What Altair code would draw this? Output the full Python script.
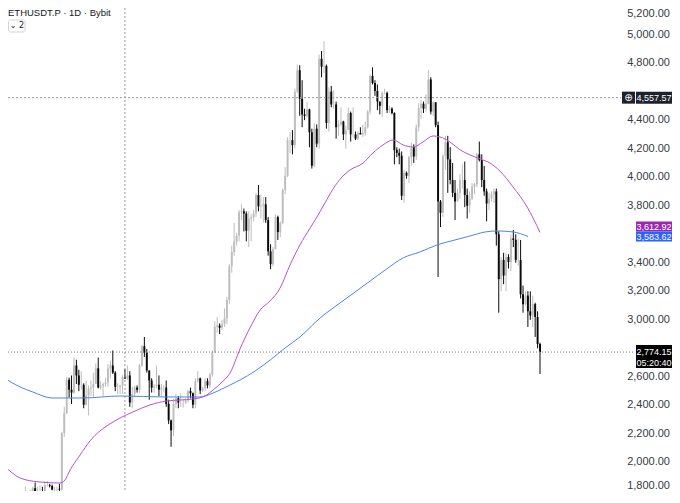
import altair as alt
import pandas as pd

# ---------------- data ----------------
START = "2025-04-22"          # first visible daily candle
FIRST_OPEN = 1580

closes = [
    1755, 1795, 1770, 1785, 1820, 1790, 1800, 1800, 1795,
    1840, 1840, 1835, 1810, 1815, 1815, 1810, 2205, 2345, 2580, 2510, 2490, 2680, 2610, 2545, 2545,
    2405, 2470, 2520, 2525, 2550, 2660, 2525, 2535, 2550, 2560, 2660, 2680, 2630, 2530, 2530,
    2540, 2600, 2590, 2610, 2420, 2480, 2525, 2510, 2680, 2815, 2770, 2645, 2575, 2525, 2535,
    2545, 2510, 2525, 2525, 2410, 2295, 2225, 2410, 2450, 2420, 2420, 2420, 2435, 2500, 2485,
    2405, 2570, 2590, 2505, 2520, 2570, 2540, 2615, 2770, 2950, 2960, 2945, 2970, 3010, 3140,
    3375, 3475, 3550, 3590, 3755, 3760, 3745, 3625, 3710, 3720, 3745, 3875, 3795, 3800, 3810, 3700,
    3480, 3390, 3495, 3720, 3615, 3680, 3910, 4010, 4260, 4260, 4225, 4600, 4750, 4550, 4440,
    4430, 4475, 4315, 4080, 4340, 4235, 4830, 4775, 4780, 4380, 4600, 4510, 4510, 4350, 4370, 4390,
    4300, 4330, 4450, 4300, 4300, 4270, 4310, 4300, 4310, 4350, 4460, 4710, 4660, 4605, 4530,
    4500, 4590, 4590, 4470, 4480, 4450, 4190, 4170, 4150, 3870, 4030, 4010, 4140, 4210, 4145,
    4350, 4485, 4515, 4480, 4515, 4685, 4460, 4525, 4365, 3830, 3750, 4150, 4245, 4125, 3980,
    3890, 3830, 3890, 3980, 3980, 3875, 3800, 3850, 3935, 3950, 4160, 4120, 3980, 3900, 3815, 3850,
    3880, 3900, 3600, 3285, 3420, 3310, 3440, 3405, 3570, 3560, 3420, 3420, 3180, 3110, 3170,
    3060, 3030, 3110, 3020, 2830, 2774.15,
]
highs = [
    1785, 1830, 1800, 1810, 1830, 1860, 1830, 1840, 1830,
    1870, 1870, 1850, 1845, 1830, 1830, 1850, 2215, 2390, 2600, 2595, 2610, 2735, 2720, 2650, 2640,
    2555, 2575, 2540, 2575, 2630, 2695, 2735, 2570, 2560, 2595, 2690, 2715, 2785, 2640, 2555,
    2545, 2610, 2655, 2680, 2640, 2530, 2540, 2540, 2690, 2825, 2880, 2795, 2640, 2590, 2550,
    2680, 2610, 2550, 2540, 2575, 2440, 2300, 2445, 2480, 2465, 2485, 2440, 2450, 2510, 2525,
    2490, 2590, 2640, 2595, 2530, 2590, 2590, 2630, 2785, 2990, 3020, 2975, 3000, 3080, 3160,
    3390, 3520, 3680, 3610, 3770, 3810, 3780, 3760, 3760, 3740, 3770, 3890, 3945, 3880, 3860, 3860,
    3720, 3530, 3510, 3740, 3730, 3690, 3920, 4070, 4280, 4320, 4330, 4620, 4790, 4785, 4680,
    4480, 4530, 4480, 4340, 4380, 4370, 4860, 4885, 4955, 4790, 4630, 4640, 4610, 4530, 4400, 4490,
    4395, 4360, 4490, 4460, 4490, 4320, 4320, 4350, 4370, 4390, 4470, 4720, 4770, 4680, 4650,
    4530, 4600, 4620, 4600, 4500, 4490, 4455, 4210, 4200, 4180, 4050, 4040, 4150, 4240, 4230,
    4370, 4520, 4540, 4530, 4580, 4750, 4700, 4530, 4525, 4390, 3840, 4160, 4290, 4290, 4210,
    4100, 3980, 3920, 4020, 4090, 4110, 3920, 3900, 3960, 3960, 4170, 4250, 4160, 4080, 3920, 3890,
    3900, 3920, 3920, 3620, 3440, 3470, 3470, 3460, 3600, 3630, 3600, 3570, 3560, 3240, 3200,
    3200, 3200, 3170, 3120, 3060, 2840,
]
lows = [
    1575, 1745, 1735, 1750, 1775, 1785, 1745, 1785, 1755,
    1795, 1830, 1825, 1805, 1785, 1760, 1780, 1805, 2180, 2340, 2455, 2410, 2480, 2550, 2500, 2510,
    2380, 2400, 2330, 2465, 2455, 2550, 2520, 2510, 2465, 2530, 2530, 2590, 2620, 2500, 2480,
    2480, 2480, 2585, 2580, 2390, 2380, 2460, 2490, 2490, 2670, 2740, 2630, 2440, 2490, 2490,
    2520, 2465, 2465, 2490, 2390, 2270, 2110, 2185, 2380, 2380, 2390, 2385, 2410, 2420, 2450,
    2380, 2380, 2560, 2480, 2495, 2500, 2520, 2520, 2600, 2770, 2910, 2900, 2930, 2950, 2970,
    3110, 3330, 3450, 3520, 3550, 3700, 3620, 3550, 3510, 3550, 3690, 3720, 3760, 3710, 3680, 3680,
    3450, 3355, 3375, 3495, 3560, 3580, 3670, 3880, 4000, 4170, 4160, 4200, 4590, 4430, 4350,
    4400, 4420, 4210, 4060, 4070, 4210, 4200, 4700, 4730, 4340, 4320, 4490, 4480, 4270, 4290, 4360,
    4260, 4200, 4330, 4250, 4280, 4260, 4260, 4300, 4280, 4290, 4340, 4440, 4650, 4570, 4470,
    4440, 4420, 4580, 4450, 4450, 4440, 4090, 4140, 4090, 3840, 3820, 3990, 3960, 4080, 4100,
    4120, 4320, 4410, 4450, 4460, 4510, 4440, 4430, 4350, 3300, 3650, 3720, 4050, 3890, 3950,
    3860, 3700, 3830, 3850, 3920, 3790, 3710, 3750, 3840, 3880, 3930, 4110, 3930, 3870, 3690, 3770,
    3830, 3820, 3520, 3050, 3200, 3250, 3200, 3360, 3340, 3510, 3400, 3380, 3150, 3050, 3100,
    2950, 3000, 2950, 2880, 2800, 2620,
]

# moving averages, sampled (day offset from START, value)
purple_days = [-9.5, -5.4, -1.2, 7.0, 15.2, 17.3, 19.4, 23.5, 27.6, 31.7, 35.8, 40.0, 45.3, 52.3,
               59.3, 64.7, 70.0, 75.0, 78.3, 82.0, 85.3, 89.4, 93.5, 97.7, 101.8, 105.9, 110.0,
               114.1, 118.3, 121.1, 124.4, 127.7, 131.4, 134.7, 140.1, 144.2, 148.3, 152.5, 156.6,
               160.7, 164.8, 168.9, 171.8, 175.9, 180.1, 184.2, 188.3, 192.4, 196.5, 201.9, 207.7, 213.0]
purple_vals = [2003, 1940, 1891, 1863, 1856, 1877, 1947, 2052, 2151, 2221, 2270, 2312, 2354, 2403,
               2431, 2438, 2445, 2466, 2508, 2564, 2627, 2796, 2943, 3069, 3132, 3223, 3384,
               3525, 3644, 3721, 3819, 3917, 4001, 4050, 4099, 4170, 4226, 4261, 4226,
               4212, 4247, 4289, 4282, 4247, 4191, 4156, 4128, 4099, 4043, 3931, 3791, 3612.92]
blue_days = [-9.5, -1.2, 4.1, 11.9, 24.7, 40.0, 59.3, 72.9, 78.3, 85.3, 89.4, 95.6, 101.8, 108.0,
             114.1, 122.4, 130.6, 136.8, 143.0, 149.2, 156.6, 163.6, 170.6, 178.0, 184.2, 190.4,
             195.3, 201.9, 208.1]
blue_vals = [2613, 2529, 2494, 2452, 2452, 2466, 2459, 2459, 2487, 2543, 2578, 2641, 2718, 2803,
             2880, 3013, 3118, 3195, 3272, 3349, 3434, 3476, 3525, 3560, 3588, 3616,
             3623, 3616, 3583.62]

# visible price-axis labels (4,600 / 3,600 / 2,800 are hidden under the price tags)
axis_values = [2000, 2200, 2400, 2600, 3000, 3200, 3400,
               3800, 4000, 4200, 4400, 4800, 5000]
top_label = 5200
bottom_label = 1800
crosshair_day = 42
crosshair_price = 4557.57
last_price = 2774.15
countdown = "05:20:40"
ma_purple_last = 3612.92
ma_blue_last = 3583.62
title = "ETHUSDT.P · 1D · Bybit"
indicator_badge = "⌄ 2"

# ---------------- build chart ----------------
W, H = 616, 483
PAD_RIGHT = 48
DAY = 86_400_000
t_start = pd.Timestamp(START).value // 1_000_000
X_DOM = [t_start - 6.18 * DAY, t_start + 247.6 * DAY]
Y_DOM = [1800, 5186]

n = len(closes)
opens = [FIRST_OPEN] + closes[:-1]
rows = []
for i in range(n):
    o, c = opens[i], closes[i]
    hi = max(highs[i], o, c)
    lo = min(lows[i], o, c)
    t = t_start + i * DAY
    rows.append(dict(t=t, t0=t - 0.4 * DAY, t1=t + 0.4 * DAY, open=o, close=c,
                     high=hi, low=lo, dir="up" if c >= o else "down"))
df = pd.DataFrame(rows)

xs = alt.Scale(domain=X_DOM)
ys = alt.Scale(domain=Y_DOM, nice=False, zero=False)

UP_BODY, UP_WICK, DOWN = "#c9c9c9", "#bdbdbd", "#0b0b0b"
FONT = "Liberation Sans"
LABEL_COLOR = "#363a45"
TAG_X0, TAG_X1, TAG_XC = 628, 664, 646

wicks = alt.Chart(df).mark_rule(strokeWidth=1, clip=True).encode(
    x=alt.X("t:T", scale=xs, axis=None),
    y=alt.Y("low:Q", scale=ys, axis=None),
    y2="high:Q",
    color=alt.Color("dir:N", scale=alt.Scale(domain=["up", "down"], range=[UP_WICK, DOWN]), legend=None),
)
bodies = alt.Chart(df).mark_rect(clip=True).encode(
    x=alt.X("t0:T", scale=xs, axis=None),
    x2="t1:T",
    y=alt.Y("open:Q", scale=ys, axis=None),
    y2="close:Q",
    color=alt.Color("dir:N", scale=alt.Scale(domain=["up", "down"], range=[UP_BODY, DOWN]), legend=None),
)

purple_df = pd.DataFrame({"t": [t_start + d * DAY for d in purple_days], "v": purple_vals})
blue_df = pd.DataFrame({"t": [t_start + d * DAY for d in blue_days], "v": blue_vals})
purple_line = alt.Chart(purple_df).mark_line(color="#b554c9", strokeWidth=1, clip=True,
                                             interpolate="monotone").encode(
    x=alt.X("t:T", scale=xs, axis=None), y=alt.Y("v:Q", scale=ys, axis=None))
blue_line = alt.Chart(blue_df).mark_line(color="#4d84ec", strokeWidth=1, clip=True,
                                         interpolate="monotone").encode(
    x=alt.X("t:T", scale=xs, axis=None), y=alt.Y("v:Q", scale=ys, axis=None))

# price axis labels (right side)
axis_df = pd.DataFrame({"p": axis_values, "txt": [f"{v:,.2f}" for v in axis_values]})
axis_labels = alt.Chart(axis_df).mark_text(align="right", baseline="middle", fontSize=11,
                                           font=FONT, color=LABEL_COLOR).encode(
    y=alt.Y("p:Q", scale=ys, axis=None), x=alt.value(662), text="txt:N")

vline = alt.Chart(pd.DataFrame({"t": [t_start + crosshair_day * DAY]})).mark_rule(
    color="#9598a1", strokeWidth=1, strokeDash=[2, 2]).encode(x=alt.X("t:T", scale=xs, axis=None))
hline = alt.Chart(pd.DataFrame({"p": [crosshair_price]})).mark_rule(
    color="#9598a1", strokeWidth=1, strokeDash=[2, 2]).encode(
    y=alt.Y("p:Q", scale=ys, axis=None), x=alt.value(0), x2=alt.value(613))
pline = alt.Chart(pd.DataFrame({"p": [last_price]})).mark_rule(
    color="#787b86", strokeWidth=1, strokeDash=[1, 2]).encode(
    y=alt.Y("p:Q", scale=ys, axis=None), x=alt.value(0), x2=alt.value(627))

def box(price, x0, x1, fill, top=-6, bottom=6):
    return alt.Chart(pd.DataFrame({"p": [price]})).mark_rect(
        fill=fill, yOffset=top, y2Offset=bottom).encode(
        y=alt.Y("p:Q", scale=ys, axis=None), y2="p:Q", x=alt.value(x0), x2=alt.value(x1))

def label(price, x, txt, dy=0, size=9, font=FONT, color="white"):
    return alt.Chart(pd.DataFrame({"p": [price]})).mark_text(
        align="center", baseline="middle", dy=dy, fontSize=size, font=font, color=color).encode(
        y=alt.Y("p:Q", scale=ys, axis=None), x=alt.value(x), text=alt.value(txt))

# crosshair price tag
cross_icon_box = box(crosshair_price, 614, 627, "#1e222d")
cross_icon = label(crosshair_price, 620.5, "⊕", size=10, font="DejaVu Sans")
cross_box = box(crosshair_price, TAG_X0, TAG_X1, "#1e222d")
cross_txt = label(crosshair_price, TAG_XC, f"{crosshair_price:,.2f}")

# moving-average tags (purple stacked above blue)
blue_box = box(ma_blue_last, TAG_X0, TAG_X1, "#2962ff", top=-5, bottom=5)
blue_txt = label(ma_blue_last, TAG_XC, f"{ma_blue_last:,.2f}")
purple_box = box(ma_blue_last, TAG_X0, TAG_X1, "#9c27b0", top=-15, bottom=-5)
purple_txt = label(ma_blue_last, TAG_XC, f"{ma_purple_last:,.2f}", dy=-10)

# last-price tag
price_box = box(last_price, TAG_X0, TAG_X1, "#000000", top=-7, bottom=16)
price_txt = label(last_price, TAG_XC, f"{last_price:,.2f}")
count_txt = label(last_price, TAG_XC, countdown, dy=11)

one = pd.DataFrame({"a": [0]})
top_lbl = alt.Chart(one).mark_text(align="right", baseline="alphabetic", fontSize=11, font=FONT,
                                   color=LABEL_COLOR).encode(
    x=alt.value(662), y=alt.value(9), text=alt.value(f"{top_label:,.2f}"))
bottom_lbl = alt.Chart(one).mark_text(align="right", baseline="bottom", fontSize=11, font=FONT,
                                      color=LABEL_COLOR).encode(
    x=alt.value(662), y=alt.value(H), text=alt.value(f"{bottom_label:,.2f}"))
title_txt = alt.Chart(one).mark_text(align="left", baseline="alphabetic", fontSize=9.5, font=FONT,
                                     color="#131722").encode(
    x=alt.value(0), y=alt.value(8), text=alt.value(title))
badge_box = alt.Chart(one).mark_rect(fill="white", stroke="#d1d4dc", strokeWidth=1,
                                     cornerRadius=2).encode(
    x=alt.value(0.5), x2=alt.value(17), y=alt.value(12), y2=alt.value(24))
badge_txt = alt.Chart(one).mark_text(align="center", baseline="middle", fontSize=8,
                                     font="DejaVu Sans", color="#131722").encode(
    x=alt.value(9), y=alt.value(18), text=alt.value(indicator_badge))

chart = alt.layer(
    axis_labels, top_lbl, bottom_lbl,
    wicks, bodies, vline, hline, pline, blue_line, purple_line,
    cross_icon_box, cross_icon, cross_box, cross_txt,
    purple_box, purple_txt, blue_box, blue_txt,
    price_box, price_txt, count_txt,
    title_txt, badge_box, badge_txt,
).properties(
    width=W, height=H,
    autosize=alt.AutoSizeParams(type="none"),
    padding={"left": 0, "top": 0, "right": PAD_RIGHT, "bottom": 0},
    background="white",
).configure_view(stroke=None)

chart.save("out.html", embed_options={"renderer": "svg", "actions": False})
